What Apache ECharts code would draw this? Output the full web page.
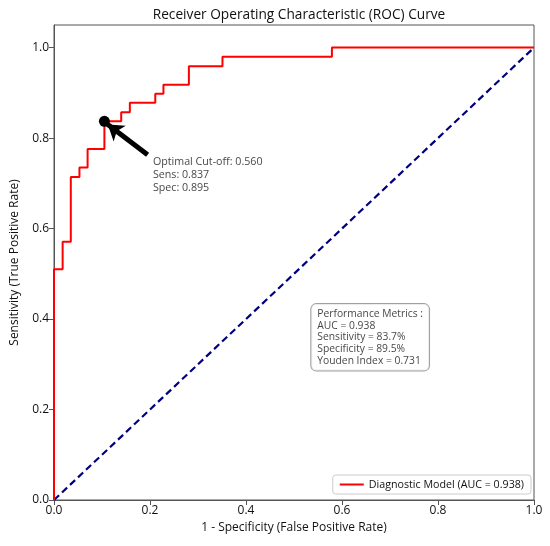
<!DOCTYPE html>
<html>
<head>
<meta charset="UTF-8">
<title>ROC Curve</title>
<style>
  html, body { margin: 0; padding: 0; background: #fff; }
  #chart { width: 550px; height: 546px; }
</style>
</head>
<body>
<div id="chart"></div>
<script src="https://cdn.jsdelivr.net/npm/echarts@6/dist/echarts.min.js"></script>
<script>
// ROC vertices (false positive rate, true positive rate)
const fpr = [0, 0, 0.018, 0.018, 0.035, 0.035, 0.053, 0.053, 0.070, 0.070, 0.105, 0.105,
             0.140, 0.140, 0.158, 0.158, 0.211, 0.211, 0.228, 0.228, 0.281, 0.281,
             0.351, 0.351, 0.579, 0.579, 1.0];
const tpr = [0, 0.510, 0.510, 0.571, 0.571, 0.714, 0.714, 0.735, 0.735, 0.776, 0.776, 0.837,
             0.837, 0.857, 0.857, 0.878, 0.878, 0.898, 0.898, 0.918, 0.918, 0.959,
             0.959, 0.980, 0.980, 1.0, 1.0];
const chanceX = [0, 1];
const chanceY = [0, 1];
const optimalPoint = [0.105, 0.837];
const arrowFrom = [0.195, 0.763];
const arrowTo = [0.112, 0.830];
const optimalText = ['Optimal Cut-off: 0.560', 'Sens: 0.837', 'Spec: 0.895'];
const optimalTextAt = [0.206, 0.761];
const metricsText = ['Performance Metrics :', 'AUC = 0.938', 'Sensitivity = 83.7%',
                     'Specificity = 89.5%', 'Youden Index = 0.731'];
const metricsAt = [0.536, 0.433];
const tickValues = [0, 0.2, 0.4, 0.6, 0.8, 1.0];
const modelName = 'Diagnostic Model (AUC = 0.938)';

const FONT = '"Open Sans", "DejaVu Sans", sans-serif';
const INK = '#111';
const chart = echarts.init(document.getElementById('chart'));

function axis(name, max, gap) {
    return {
        type: 'value',
        min: 0,
        max: max,
        name: name,
        nameLocation: 'middle',
        nameGap: gap,
        nameTextStyle: { fontFamily: FONT, fontSize: 12, color: INK },
        axisLine: { show: true, lineStyle: { color: '#555', width: 1 } },
        axisTick: { show: true, length: 5, customValues: tickValues, lineStyle: { color: '#555' } },
        axisLabel: {
            customValues: tickValues,
            fontFamily: FONT, fontSize: 12, color: INK, margin: 5,
            formatter: v => v.toFixed(1)
        },
        splitLine: { show: false }
    };
}

chart.setOption({
    animation: false,
    title: {
        text: 'Receiver Operating Characteristic (ROC) Curve',
        left: 294,
        textAlign: 'center',
        top: 3,
        textStyle: { fontFamily: FONT, fontSize: 13.7, fontWeight: 'normal', color: INK }
    },
    grid: {
        left: 54, right: 16, top: 25, bottom: 46,
        show: true, borderColor: '#555', borderWidth: 1
    },
    legend: {
        data: [modelName],
        right: 19,
        bottom: 52,
        icon: 'rect',
        itemWidth: 24,
        itemHeight: 2,
        itemGap: 8,
        padding: [4, 7],
        borderColor: '#ccc',
        borderWidth: 1,
        borderRadius: 3,
        backgroundColor: '#fff',
        textStyle: { fontFamily: FONT, fontSize: 10.7, color: INK }
    },
    xAxis: axis('1 - Specificity (False Positive Rate)', 1, 21),
    yAxis: axis('Sensitivity (True Positive Rate)', 1.05, 33),
    series: [
        {
            name: 'chance',
            type: 'line',
            data: chanceX.map((x, i) => [x, chanceY[i]]),
            symbol: 'none',
            lineStyle: { color: '#000080', width: 2.2, type: [7, 4] },
            z: 2
        },
        {
            name: modelName,
            type: 'line',
            data: fpr.map((x, i) => [x, tpr[i]]),
            symbol: 'none',
            lineStyle: { color: '#ff0000', width: 2 },
            itemStyle: { color: '#ff0000' },
            z: 3
        },
        {
            name: 'optimal',
            type: 'scatter',
            data: [optimalPoint],
            symbol: 'circle',
            symbolSize: 11,
            itemStyle: { color: '#000', opacity: 1 },
            z: 5,
            markLine: {
                silent: true,
                symbol: ['none', 'arrow'],
                symbolSize: [15, 15],
                label: { show: false },
                lineStyle: { color: '#000', width: 5, type: 'solid', opacity: 1 },
                data: [[{ coord: arrowFrom }, { coord: arrowTo }]]
            }
        },
        {
            name: 'optimalText',
            type: 'scatter',
            data: [optimalTextAt],
            symbolSize: 0,
            silent: true,
            label: {
                show: true,
                position: [0, 0],
                formatter: optimalText.join('\n'),
                fontFamily: FONT, fontSize: 10.7, lineHeight: 13, color: INK
            }
        },
        {
            name: 'metrics',
            type: 'scatter',
            data: [metricsAt],
            symbolSize: 0,
            silent: true,
            z: 6,
            label: {
                show: true,
                position: [0, 0],
                formatter: metricsText.join('\n'),
                fontFamily: FONT, fontSize: 10.3, lineHeight: 11.7, color: INK,
                backgroundColor: '#fff',
                borderColor: '#888',
                borderWidth: 1,
                borderRadius: 5,
                padding: [4, 6, 4, 6]
            }
        }
    ]
});
</script>
</body>
</html>
